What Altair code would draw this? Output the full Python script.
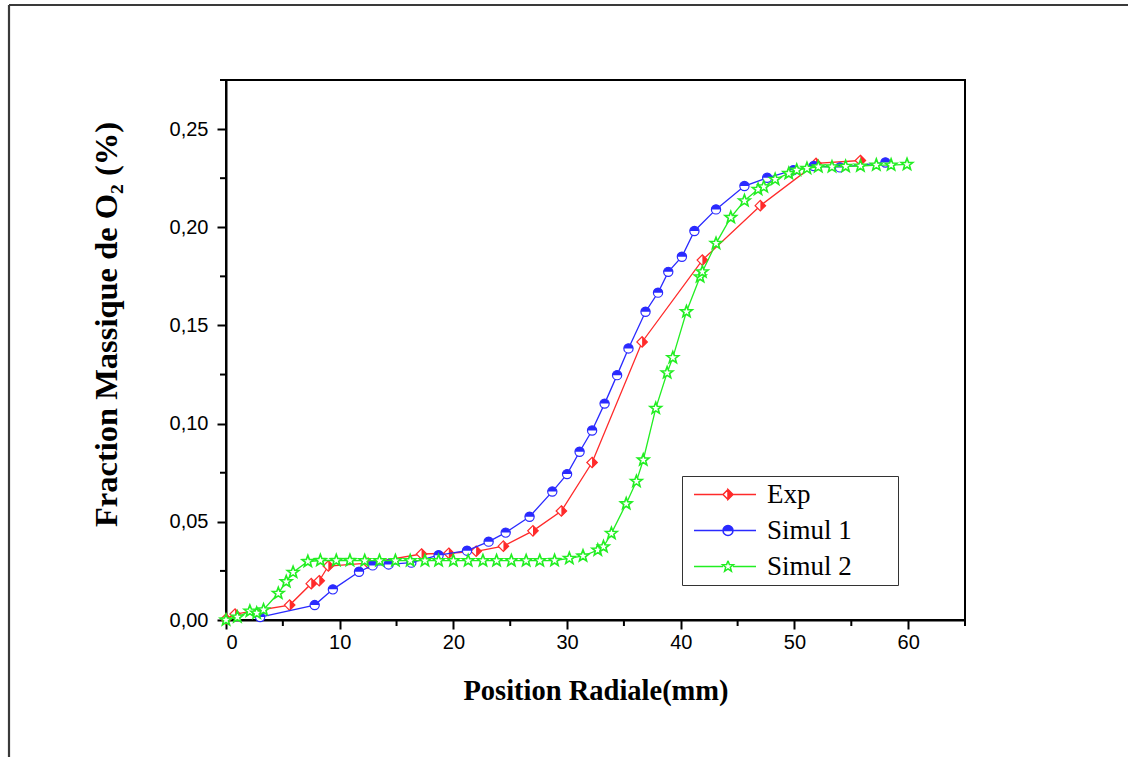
import math
import altair as alt
import pandas as pd

# ---------------- data ----------------
series_names = ["Exp", "Simul 1", "Simul 2"]
series_colors = ["#ff2a2a", "#2a2aff", "#22ee22"]

exp_x = [0.0, 0.8, 5.6, 7.5, 8.2, 9.0, 12.5, 17.2, 19.6, 22.0, 24.4, 27.0, 29.5,
         32.2, 36.6, 41.9, 47.0, 51.9, 55.8]
exp_y = [0.0005, 0.003, 0.0076, 0.0185, 0.020, 0.0275, 0.029, 0.0336, 0.034, 0.035,
         0.0376, 0.0454, 0.0555, 0.0802, 0.1416, 0.1833, 0.211, 0.2325, 0.234]

sim1_x = [3.0, 7.8, 9.4, 11.7, 12.9, 14.3, 16.3, 18.7, 21.2, 23.1, 24.6, 26.7,
          28.7, 30.0, 31.1, 32.2, 33.3, 34.4, 35.4, 36.9, 38.0, 38.9, 40.1, 41.2,
          43.1, 45.6, 47.6, 49.9, 51.7, 54.0, 58.0]
sim1_y = [0.0015, 0.0076, 0.0156, 0.0246, 0.0278, 0.0283, 0.0292, 0.033, 0.0353,
          0.0399, 0.0445, 0.0526, 0.0654, 0.0743, 0.0857, 0.0965, 0.1102, 0.1247,
          0.1383, 0.157, 0.1667, 0.1773, 0.185, 0.1981, 0.2091, 0.221, 0.2252,
          0.2291, 0.2312, 0.2305, 0.233]

sim2_x = [0.0, 1.0, 2.1, 2.7, 3.3, 4.6, 5.3, 5.9, 7.2, 8.3, 9.7, 10.9, 12.2, 13.5,
          14.9, 16.2, 17.5, 18.7, 20.0, 21.3, 22.6, 23.8, 25.1, 26.4, 27.6, 28.9,
          30.2, 31.4, 32.7, 33.2, 33.9, 35.2, 36.1, 36.7, 37.8, 38.8, 39.3, 40.5,
          41.7, 41.9, 43.1, 44.4, 45.6, 46.8, 47.3, 48.3, 49.5, 50.2, 51.1, 52.1,
          53.3, 54.5, 55.8, 57.2, 58.5, 59.9]
sim2_y = [0.0, 0.0015, 0.0045, 0.0035, 0.0052, 0.0136, 0.0195, 0.0243, 0.0298,
          0.0303, 0.0303, 0.0303, 0.0302, 0.0302, 0.0302, 0.0302, 0.0302, 0.0302,
          0.0302, 0.0302, 0.0302, 0.0302, 0.0302, 0.0302, 0.0302, 0.0303, 0.0314,
          0.0326, 0.0356, 0.0373, 0.0441, 0.0592, 0.0706, 0.0815, 0.1078, 0.1259,
          0.1336, 0.157, 0.1748, 0.1773, 0.1918, 0.205, 0.2135, 0.2193, 0.2206,
          0.2244, 0.2274, 0.2291, 0.2300, 0.2308, 0.2308, 0.2310, 0.2312, 0.2317,
          0.2317, 0.2320]

x_major = [0, 10, 20, 30, 40, 50, 60]
x_minor = [5, 15, 25, 35, 45, 55, 65]
y_major = [0.0, 0.05, 0.10, 0.15, 0.20, 0.25]
y_minor = [0.025, 0.075, 0.125, 0.175, 0.225, 0.275]

x_title = "Position Radiale(mm)"
y_title = "Fraction Massique de O\u2082 (%)"

# ---------------- styling ----------------
W, H = 739, 540
PAD = {"left": 226, "top": 80, "right": 163, "bottom": 137}
SERIF = "Liberation Serif"
SANS = "Liberation Sans"

xscale = alt.Scale(domain=[0, 65], nice=False, zero=False)
yscale = alt.Scale(domain=[0, 0.275], nice=False, zero=False)


def fmt(v):
    return ("%.3f" % v).rstrip("0").rstrip(".")


def star_pts(cx, r_out, r_in):
    pts = []
    for k in range(10):
        a = -math.pi / 2 + k * math.pi / 5
        r = r_out if k % 2 == 0 else r_in
        pts.append((cx + r * math.cos(a), r * math.sin(a)))
    return pts


def poly(pts, close=True):
    s = "M" + "L".join(fmt(x) + "," + fmt(y) for x, y in pts)
    return s + ("Z" if close else "")


# data markers (unit square coordinates)
diamond_outline = "M0,-1L1,0L0,1L-1,0Z"
diamond_half = "M0,-1L1,0L0,1Z"
circle_outline = "M-1,0A1,1,0,1,1,1,0A1,1,0,1,1,-1,0Z"
circle_half = "M-1,0A1,1,0,0,1,1,0Z"
star_outline = poly(star_pts(0, 1, 0.42))

outline_shapes = [diamond_outline, circle_outline, star_outline]
half_shapes = [diamond_half, circle_half, None]
marker_sizes = [110, 85, 150]

# legend symbols: line + marker (scaled by sqrt(size)/2 = 5 px)
L0, MC, L1 = -1.3, 5.5, 11.1
leg_exp = ("M%s,0H%s" % (fmt(L0), fmt(MC - 1)) +
           "M%s,-1L%s,0L%s,1L%s,0Z" % (fmt(MC), fmt(MC - 1), fmt(MC), fmt(MC - 1)) +
           "M%s,-1L%s,0L%s,1Z" % (fmt(MC), fmt(MC + 1), fmt(MC)) +
           "M%s,0H%s" % (fmt(MC + 1), fmt(L1)))
leg_sim1 = ("M%s,0H%s" % (fmt(L0), fmt(MC - 1)) +
            "M%s,0A1,1,0,0,0,%s,0A1,1,0,0,1,%s,0" % (fmt(MC - 1), fmt(MC + 1), fmt(MC - 1)) +
            "M%s,0A1,1,0,0,1,%s,0Z" % (fmt(MC - 1), fmt(MC + 1)) +
            "M%s,0H%s" % (fmt(MC + 1), fmt(L1)))
sp = star_pts(MC, 1.15, 0.48)
leg_sim2 = ("M%s,0H%s" % (fmt(L0), fmt(MC - 1.0)) +
            poly(sp + [sp[0]] + list(reversed(sp[1:])), close=True) +
            "M%s,0H%s" % (fmt(MC + 1.0), fmt(L1)))
legend_shapes = [leg_exp, leg_sim1, leg_sim2]

series_data = [(exp_x, exp_y), (sim1_x, sim1_y), (sim2_x, sim2_y)]

x_axis = alt.Axis(values=x_major, format="d", tickSize=9, labelPadding=3,
                  labelFont=SANS, labelFontSize=20, labelColor="black",
                  title=x_title, titleFont=SERIF, titleFontSize=28.5,
                  titleFontWeight="bold", titleColor="black",
                  titleBaseline="alphabetic", titleY=79)
y_axis = alt.Axis(values=y_major,
                  labelExpr="replace(format(datum.value, '.2f'), '.', ',')",
                  tickSize=9, labelPadding=9, labelFont=SANS, labelFontSize=20,
                  labelColor="black", title=y_title, titleFont=SERIF,
                  titleFontSize=32.5, titleFontWeight="bold", titleColor="black",
                  titleAngle=-90, titleBaseline="bottom", titleX=-103, titleY=244)


def X(field):
    return alt.X(field, scale=xscale, axis=x_axis)


def Y(field):
    return alt.Y(field, scale=yscale, axis=y_axis)


layers = []

# outer frame (decoration)
one = alt.Data(values=[{"k": 1}])
layers.append(alt.Chart(one).mark_rule(color="#3a3a3a", strokeWidth=2.2).encode(
    x=alt.value(-217), x2=alt.value(W + PAD["right"] + 5), y=alt.value(-75)))
layers.append(alt.Chart(one).mark_rule(color="#3a3a3a", strokeWidth=2.2).encode(
    x=alt.value(-217), y=alt.value(-75), y2=alt.value(H + PAD["bottom"] + 5)))

for i, (name, col) in enumerate(zip(series_names, series_colors)):
    xs, ys = series_data[i]
    df = pd.DataFrame({"x": xs, "y": ys, "i": list(range(len(xs)))})
    base = alt.Chart(df)
    layers.append(base.mark_line(color=col, strokeWidth=1.3).encode(
        x=X("x:Q"), y=Y("y:Q"), order="i:Q"))
    sw = 1.6 if i == 2 else 1.2
    layers.append(base.mark_point(shape=outline_shapes[i], filled=True, fill="white",
                                  stroke=col, strokeWidth=sw, size=marker_sizes[i],
                                  opacity=1).encode(x=X("x:Q"), y=Y("y:Q")))
    if half_shapes[i]:
        layers.append(base.mark_point(shape=half_shapes[i], filled=True, fill=col,
                                      strokeWidth=0, size=marker_sizes[i],
                                      opacity=1).encode(x=X("x:Q"), y=Y("y:Q")))

# minor ticks
layers.append(alt.Chart(pd.DataFrame({"x": x_minor})).mark_rule(
    color="black", strokeWidth=2).encode(
    x=X("x:Q"), y=alt.value(H), y2=alt.value(H + 6)))
layers.append(alt.Chart(pd.DataFrame({"y": y_minor})).mark_rule(
    color="black", strokeWidth=2).encode(
    y=Y("y:Q"), x=alt.value(-6), x2=alt.value(0)))

# legend driver layer (no visible marks)
leg_df = pd.DataFrame({"s": series_names})
legend = alt.Legend(title="\u2014", titleOrient="right", titleColor="white",
                    titleFontSize=36, titlePadding=5,
                    orient="none", legendX=456, legendY=396,
                    strokeColor="#333", fillColor="white", padding=5,
                    labelFont=SERIF, labelFontSize=27, labelColor="black",
                    labelOffset=53, rowPadding=8, symbolSize=100,
                    symbolStrokeWidth=1.5, labelLimit=300)
layers.append(alt.Chart(leg_df).transform_filter("false").mark_point(
    filled=True, size=100, opacity=1, strokeWidth=1.5).encode(
    fill=alt.Fill("s:N", scale=alt.Scale(domain=series_names, range=series_colors),
                  legend=legend),
    stroke=alt.Stroke("s:N", scale=alt.Scale(domain=series_names, range=series_colors),
                      legend=legend),
    shape=alt.Shape("s:N", scale=alt.Scale(domain=series_names, range=legend_shapes),
                    legend=legend)))

chart = alt.layer(*layers).properties(
    width=W, height=H,
    autosize=alt.AutoSizeParams(type="none"),
    padding=PAD,
    background="white",
).configure_view(
    stroke="black", strokeWidth=2
).configure_axis(
    domainColor="black", domainWidth=2, tickColor="black", tickWidth=2, grid=False
)

chart.save("out.html", embed_options={"renderer": "svg", "actions": False})
